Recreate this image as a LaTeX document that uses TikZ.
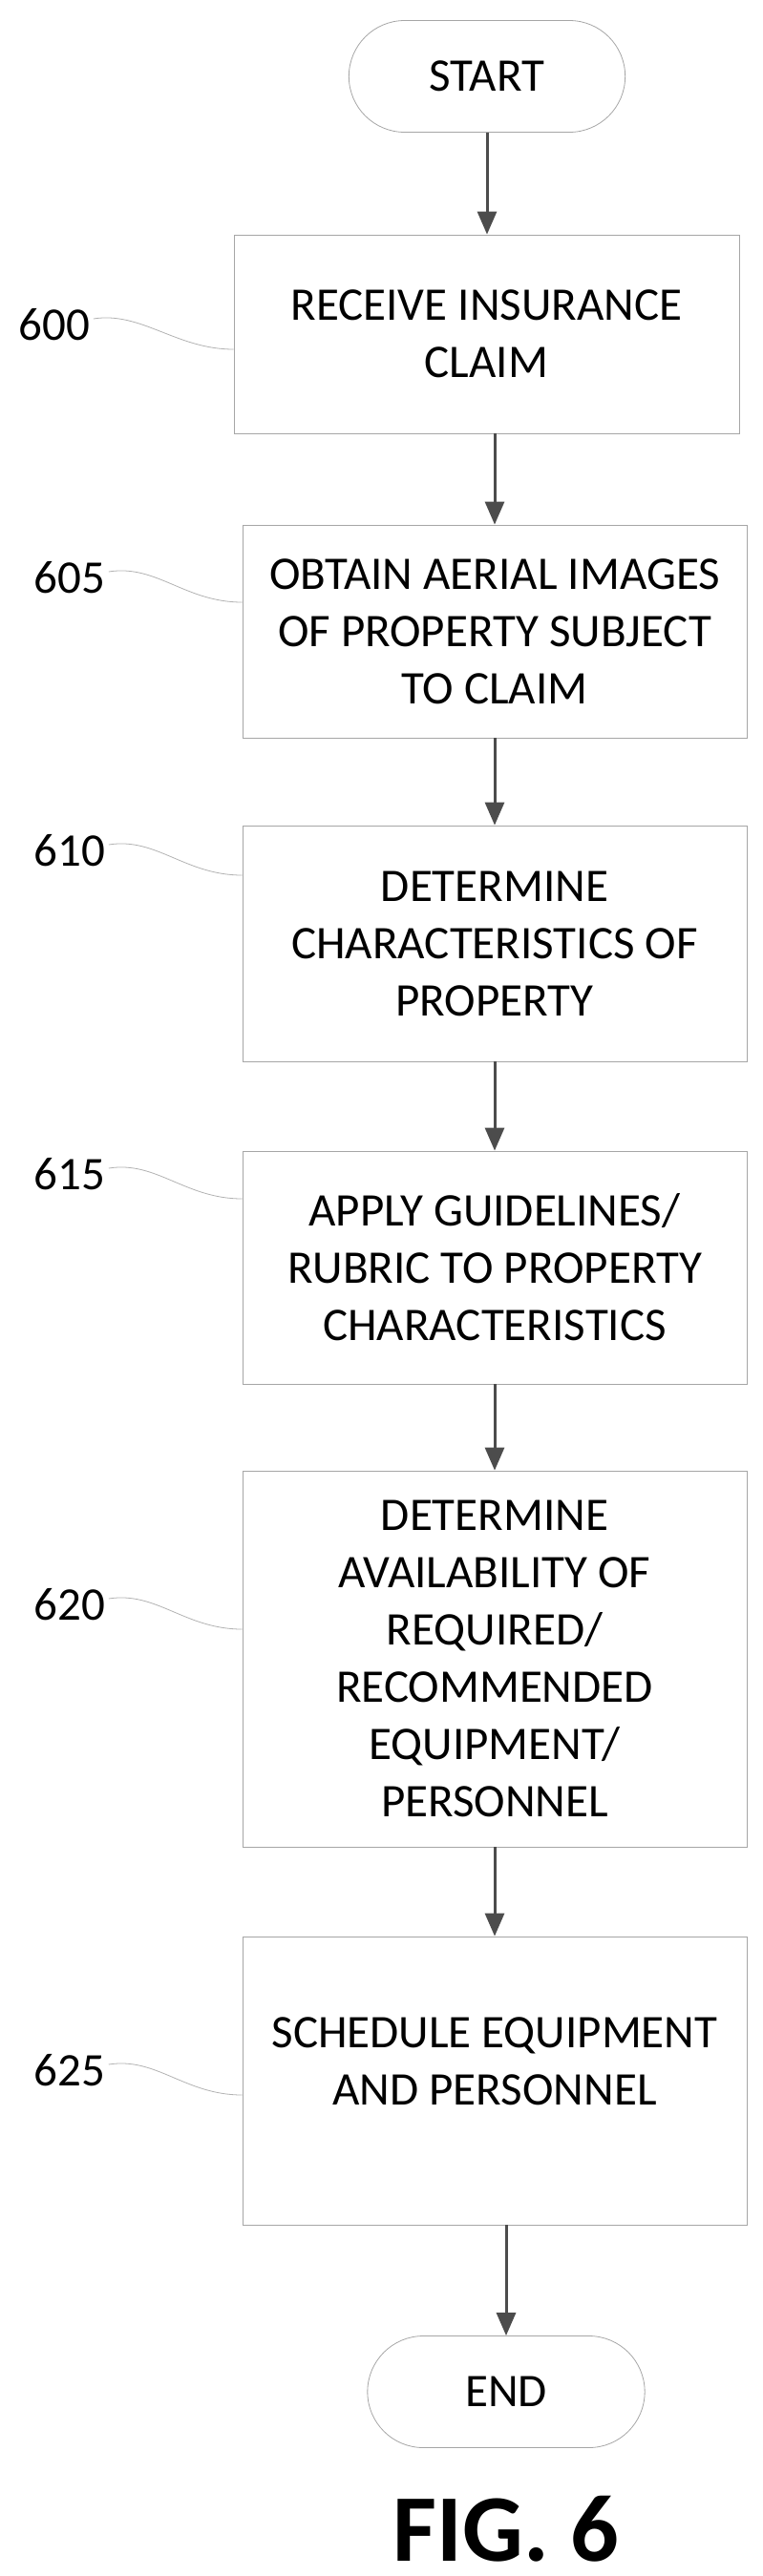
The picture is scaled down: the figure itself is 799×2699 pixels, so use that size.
\documentclass[tikz,border=0pt]{standalone}
\usepackage{fontspec}
\setmainfont{Carlito}
\usetikzlibrary{shapes.misc,arrows.meta}
\begin{document}
\begin{tikzpicture}[x=1pt,y=-1pt,
  box/.style={draw=gray!70,line width=0.8pt,align=center,font=\fontsize{49}{60}\selectfont},
  term/.style={draw=gray!70,line width=0.8pt,rounded rectangle,font=\fontsize{49}{60}\selectfont},
  lab/.style={font=\fontsize{49}{56}\selectfont},
  lead/.style={draw=gray!60,line width=0.8pt},
  arr/.style={draw=gray!60!black,line width=3pt,-{Triangle[length=24pt,width=20pt]}}]
\useasboundingbox (0,0) rectangle (799,2699);
\node[term,minimum width=296pt,minimum height=117pt] (s) at (510,80) {START};
\node[box,minimum width=529pt,minimum height=208pt] (b0) at (509.5,350) {RECEIVE INSURANCE\\CLAIM};
\node[box,minimum width=528pt,minimum height=223pt] (b1) at (518,661.5) {OBTAIN AERIAL IMAGES\\OF PROPERTY SUBJECT\\TO CLAIM};
\node[box,minimum width=528pt,minimum height=247pt] (b2) at (518,988.5) {DETERMINE\\CHARACTERISTICS OF\\PROPERTY};
\node[box,minimum width=528pt,minimum height=244pt] (b3) at (518,1328) {APPLY GUIDELINES/\\RUBRIC TO PROPERTY\\CHARACTERISTICS};
\node[box,minimum width=528pt,minimum height=394pt] (b4) at (518,1738) {DETERMINE\\AVAILABILITY OF\\REQUIRED/\\RECOMMENDED\\EQUIPMENT/\\PERSONNEL};
\node[box,minimum width=528pt,minimum height=302pt,text depth=40pt] (b5) at (518,2180) {SCHEDULE EQUIPMENT\\AND PERSONNEL};
\node[term,minimum width=297pt,minimum height=117pt] (e) at (530,2506) {END};
\node[font=\bfseries\fontsize{100}{106}\selectfont] (fig) at (530,2650) {FIG. 6};
\node[lab] (l0) at (57,340) {600};
\node[lab] (l1) at (73,605) {605};
\node[lab] (l2) at (73,891) {610};
\node[lab] (l3) at (73,1230) {615};
\node[lab] (l4) at (73,1681) {620};
\node[lab] (l5) at (73,2169) {625};
\foreach \l/\b in {l0/b0,l1/b1,l2/b2,l3/b3,l4/b4,l5/b5}{
  \draw[lead] ([yshift=6pt]\l.east) .. controls ++(50,-8) and ++(-60,0) .. ([yshift=-26pt]\b.west |- \l.east);
}
\draw[arr] (s.south) -- (s.south |- b0.north);
\draw[arr] (b0.south -| b1.north) -- (b1.north);
\draw[arr] (b1.south) -- (b2.north);
\draw[arr] (b2.south) -- (b3.north);
\draw[arr] (b3.south) -- (b4.north);
\draw[arr] (b4.south) -- (b5.north);
\draw[arr] (b5.south -| e.north) -- (e.north);
\end{tikzpicture}
\end{document}
